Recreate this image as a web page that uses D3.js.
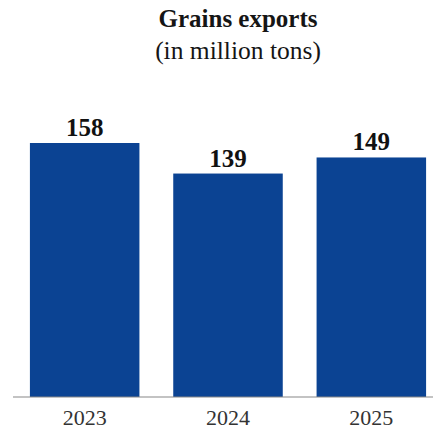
<!DOCTYPE html>
<html>
<head>
<script src="https://d3js.org/d3.v7.min.js"></script>
<style>
  body { margin: 0; background: #fff; }
  svg { display: block; font-family: "Liberation Serif", "Times New Roman", serif; }
</style>
</head>
<body>
<svg width="433" height="431"></svg>
<script>
var years = ["2023", "2024", "2025"];
var exports = [158, 139, 149];

var svg = d3.select("svg");
var baseY = 397;

var x = d3.scaleBand()
  .domain(years)
  .range([13, 443])
  .paddingInner(0.236)
  .paddingOuter(0.118);

var y = d3.scaleLinear()
  .domain([0, 158])
  .range([baseY, 143]);

// title
svg.append("text")
  .attr("x", 238).attr("y", 27)
  .attr("text-anchor", "middle")
  .attr("font-size", 25).attr("font-weight", "bold")
  .attr("fill", "#151515")
  .text("Grains exports");
svg.append("text")
  .attr("x", 238).attr("y", 59)
  .attr("text-anchor", "middle")
  .attr("font-size", 25.5)
  .attr("fill", "#151515")
  .text("(in million tons)");

// bars
svg.selectAll("rect.bar")
  .data(exports)
  .enter()
  .append("rect")
  .attr("class", "bar")
  .attr("x", function(d, i) { return x(years[i]); })
  .attr("y", function(d) { return y(d); })
  .attr("width", x.bandwidth())
  .attr("height", function(d) { return baseY - y(d); })
  .attr("fill", "#0b4393");

// value labels
svg.selectAll("text.val")
  .data(exports)
  .enter()
  .append("text")
  .attr("class", "val")
  .attr("x", function(d, i) { return x(years[i]) + x.bandwidth() / 2; })
  .attr("y", function(d) { return y(d) - 7; })
  .attr("text-anchor", "middle")
  .attr("font-size", 25).attr("font-weight", "bold")
  .attr("fill", "#111")
  .text(function(d) { return d; });

// x axis
var axis = svg.append("g")
  .attr("transform", "translate(0," + baseY + ")")
  .call(d3.axisBottom(x).tickSize(0).tickPadding(12));
axis.select(".domain").remove();
axis.append("line")
  .attr("x1", 13).attr("x2", 433)
  .attr("stroke", "#888").attr("stroke-width", 1.2);
axis.selectAll(".tick text")
  .attr("font-family", "Liberation Serif, Times New Roman, serif")
  .attr("font-size", 22)
  .attr("fill", "#333");
</script>
</body>
</html>
